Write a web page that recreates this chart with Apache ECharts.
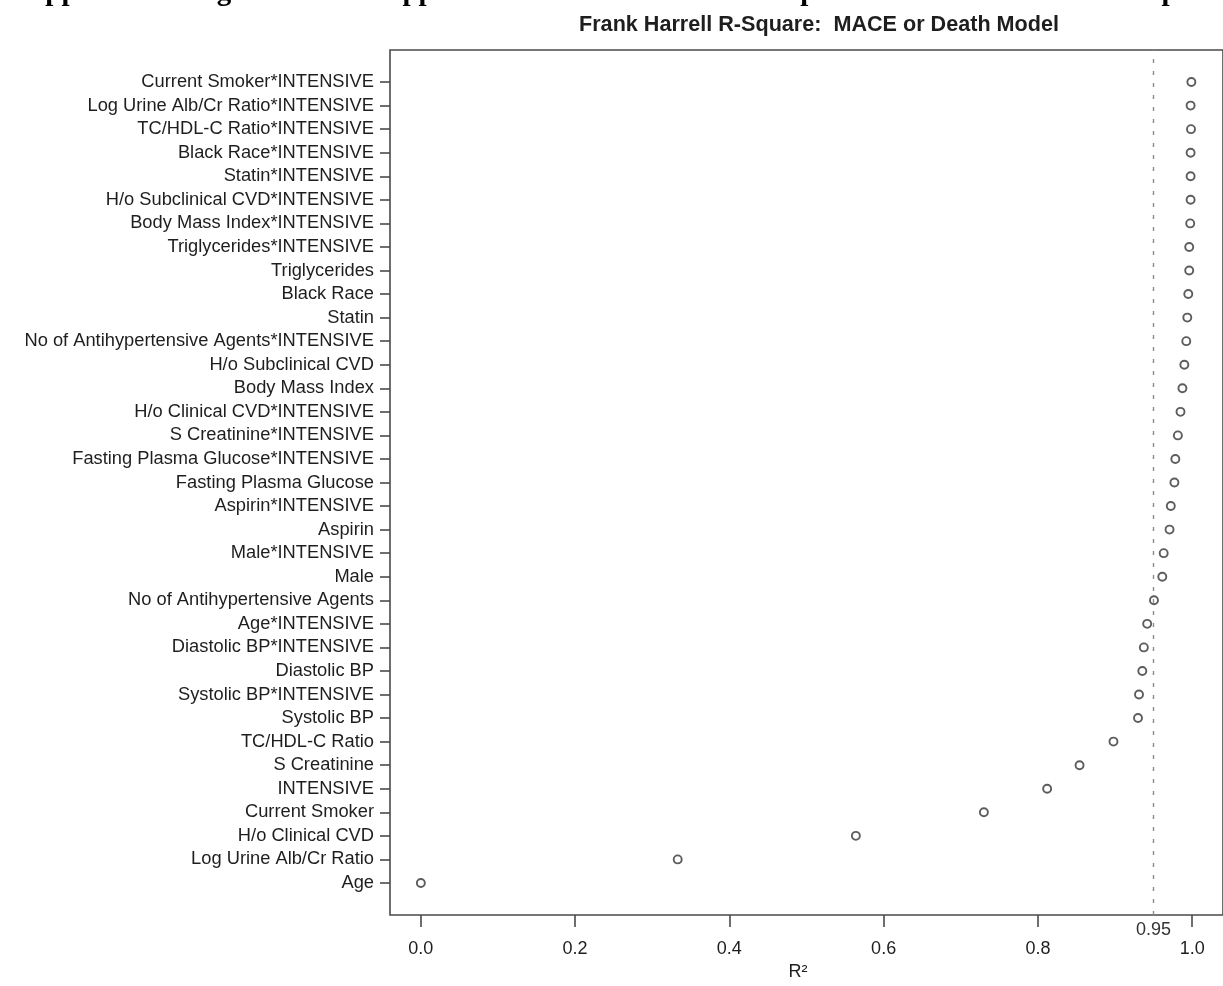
<!DOCTYPE html>
<html>
<head>
<meta charset="utf-8">
<script src="https://cdn.jsdelivr.net/npm/echarts@6/dist/echarts.min.js"></script>
<style>
  html, body { margin: 0; padding: 0; background: #ffffff; }
  #chart { width: 1223px; height: 986px; }
</style>
</head>
<body>
<div id="chart"></div>
<script>
// Predictors, listed from the top row of the dot chart to the bottom row
const predictors = [
  'Current Smoker*INTENSIVE',
  'Log Urine Alb/Cr Ratio*INTENSIVE',
  'TC/HDL-C Ratio*INTENSIVE',
  'Black Race*INTENSIVE',
  'Statin*INTENSIVE',
  'H/o Subclinical CVD*INTENSIVE',
  'Body Mass Index*INTENSIVE',
  'Triglycerides*INTENSIVE',
  'Triglycerides',
  'Black Race',
  'Statin',
  'No of Antihypertensive Agents*INTENSIVE',
  'H/o Subclinical CVD',
  'Body Mass Index',
  'H/o Clinical CVD*INTENSIVE',
  'S Creatinine*INTENSIVE',
  'Fasting Plasma Glucose*INTENSIVE',
  'Fasting Plasma Glucose',
  'Aspirin*INTENSIVE',
  'Aspirin',
  'Male*INTENSIVE',
  'Male',
  'No of Antihypertensive Agents',
  'Age*INTENSIVE',
  'Diastolic BP*INTENSIVE',
  'Diastolic BP',
  'Systolic BP*INTENSIVE',
  'Systolic BP',
  'TC/HDL-C Ratio',
  'S Creatinine',
  'INTENSIVE',
  'Current Smoker',
  'H/o Clinical CVD',
  'Log Urine Alb/Cr Ratio',
  'Age'
];

// Frank Harrell R-square of the reduced model, same order as predictors
const rSquare = [
  0.999, 0.998, 0.9985, 0.998, 0.998, 0.998, 0.9975, 0.9962,
  0.9962, 0.995, 0.9937, 0.9924, 0.9899, 0.9874, 0.9849, 0.9815,
  0.9782, 0.977, 0.9723, 0.9707, 0.9631, 0.9613, 0.9505, 0.9417,
  0.9374, 0.9354, 0.9311, 0.9298, 0.898, 0.854, 0.812, 0.730,
  0.564, 0.333, 0.000
];

// Tick positions on the R-square axis
const xTicks = [0, 0.2, 0.4, 0.6, 0.8, 1.0];
const cutoff = 0.95;

const n = predictors.length;
const rowPositions = predictors.map((_, i) => n - i);
const points = predictors.map((name, i) => [rSquare[i], n - i, name]);

const textColor = '#1e1e1e';
const lineColor = '#4a4a4a';
const sans = 'Liberation Sans, Arial, Helvetica, sans-serif';

const chart = echarts.init(document.getElementById('chart'), null, { renderer: 'canvas' });

chart.setOption({
  backgroundColor: '#ffffff',
  animation: false,
  title: {
    text: 'Frank Harrell R-Square:  MACE or Death Model',
    left: 814,
    top: 9,
    textAlign: 'center',
    textStyle: {
      fontFamily: sans,
      fontWeight: 'bold',
      fontSize: 21.6,
      color: textColor
    }
  },
  graphic: [
    {
      // page heading above the figure, running off the top edge
      type: 'text',
      left: 13,
      top: -22,
      silent: true,
      style: {
        text: 'Supplemental Figure S12-A. Supplemental Ranked Variable Importance in MACE Model Top Predictors',
        font: 'bold 29px "Liberation Serif", "Times New Roman", serif',
        fill: '#000000'
      }
    }
  ],
  grid: {
    left: 390,
    top: 50,
    width: 835,
    height: 871,
    show: true,
    borderColor: lineColor,
    borderWidth: 1.6,
    backgroundColor: 'transparent'
  },
  xAxis: {
    type: 'value',
    min: -0.04,
    max: 1.04,
    name: 'R²',
    nameLocation: 'middle',
    nameGap: 48,
    nameTextStyle: {
      fontFamily: sans,
      fontSize: 18,
      color: textColor,
      padding: [0, 17, 0, 0]
    },
    axisLine: { show: false, onZero: false },
    splitLine: { show: false },
    axisTick: {
      show: true,
      customValues: xTicks,
      length: 12,
      inside: false,
      lineStyle: { color: lineColor, width: 1.6 }
    },
    axisLabel: {
      show: true,
      customValues: xTicks,
      margin: 25,
      fontFamily: sans,
      fontSize: 18,
      color: textColor,
      formatter: (v) => v.toFixed(1)
    }
  },
  yAxis: {
    type: 'value',
    min: -0.36,
    max: n + 1.36,
    axisLine: { show: false, onZero: false },
    splitLine: { show: false },
    axisTick: {
      show: true,
      customValues: rowPositions,
      length: 10,
      inside: false,
      lineStyle: { color: lineColor, width: 1.6 }
    },
    axisLabel: {
      show: true,
      customValues: rowPositions,
      margin: 16,
      fontFamily: sans,
      fontSize: 18.3,
      color: textColor,
      formatter: (v) => predictors[n - Math.round(v)]
    }
  },
  series: [
    {
      type: 'scatter',
      data: points,
      symbol: 'circle',
      symbolSize: 8,
      itemStyle: {
        color: 'rgba(255,255,255,0)',
        borderColor: '#353535',
        borderWidth: 1.9
      },
      silent: true,
      markLine: {
        silent: true,
        symbol: ['none', 'none'],
        lineStyle: { color: '#8c8c8c', width: 1.4, type: [4, 8] },
        label: {
          show: true,
          position: 'start',
          distance: 6,
          formatter: '0.95',
          fontFamily: sans,
          fontSize: 18,
          color: '#333333'
        },
        data: [{ xAxis: cutoff }]
      }
    }
  ]
});
</script>
</body>
</html>
